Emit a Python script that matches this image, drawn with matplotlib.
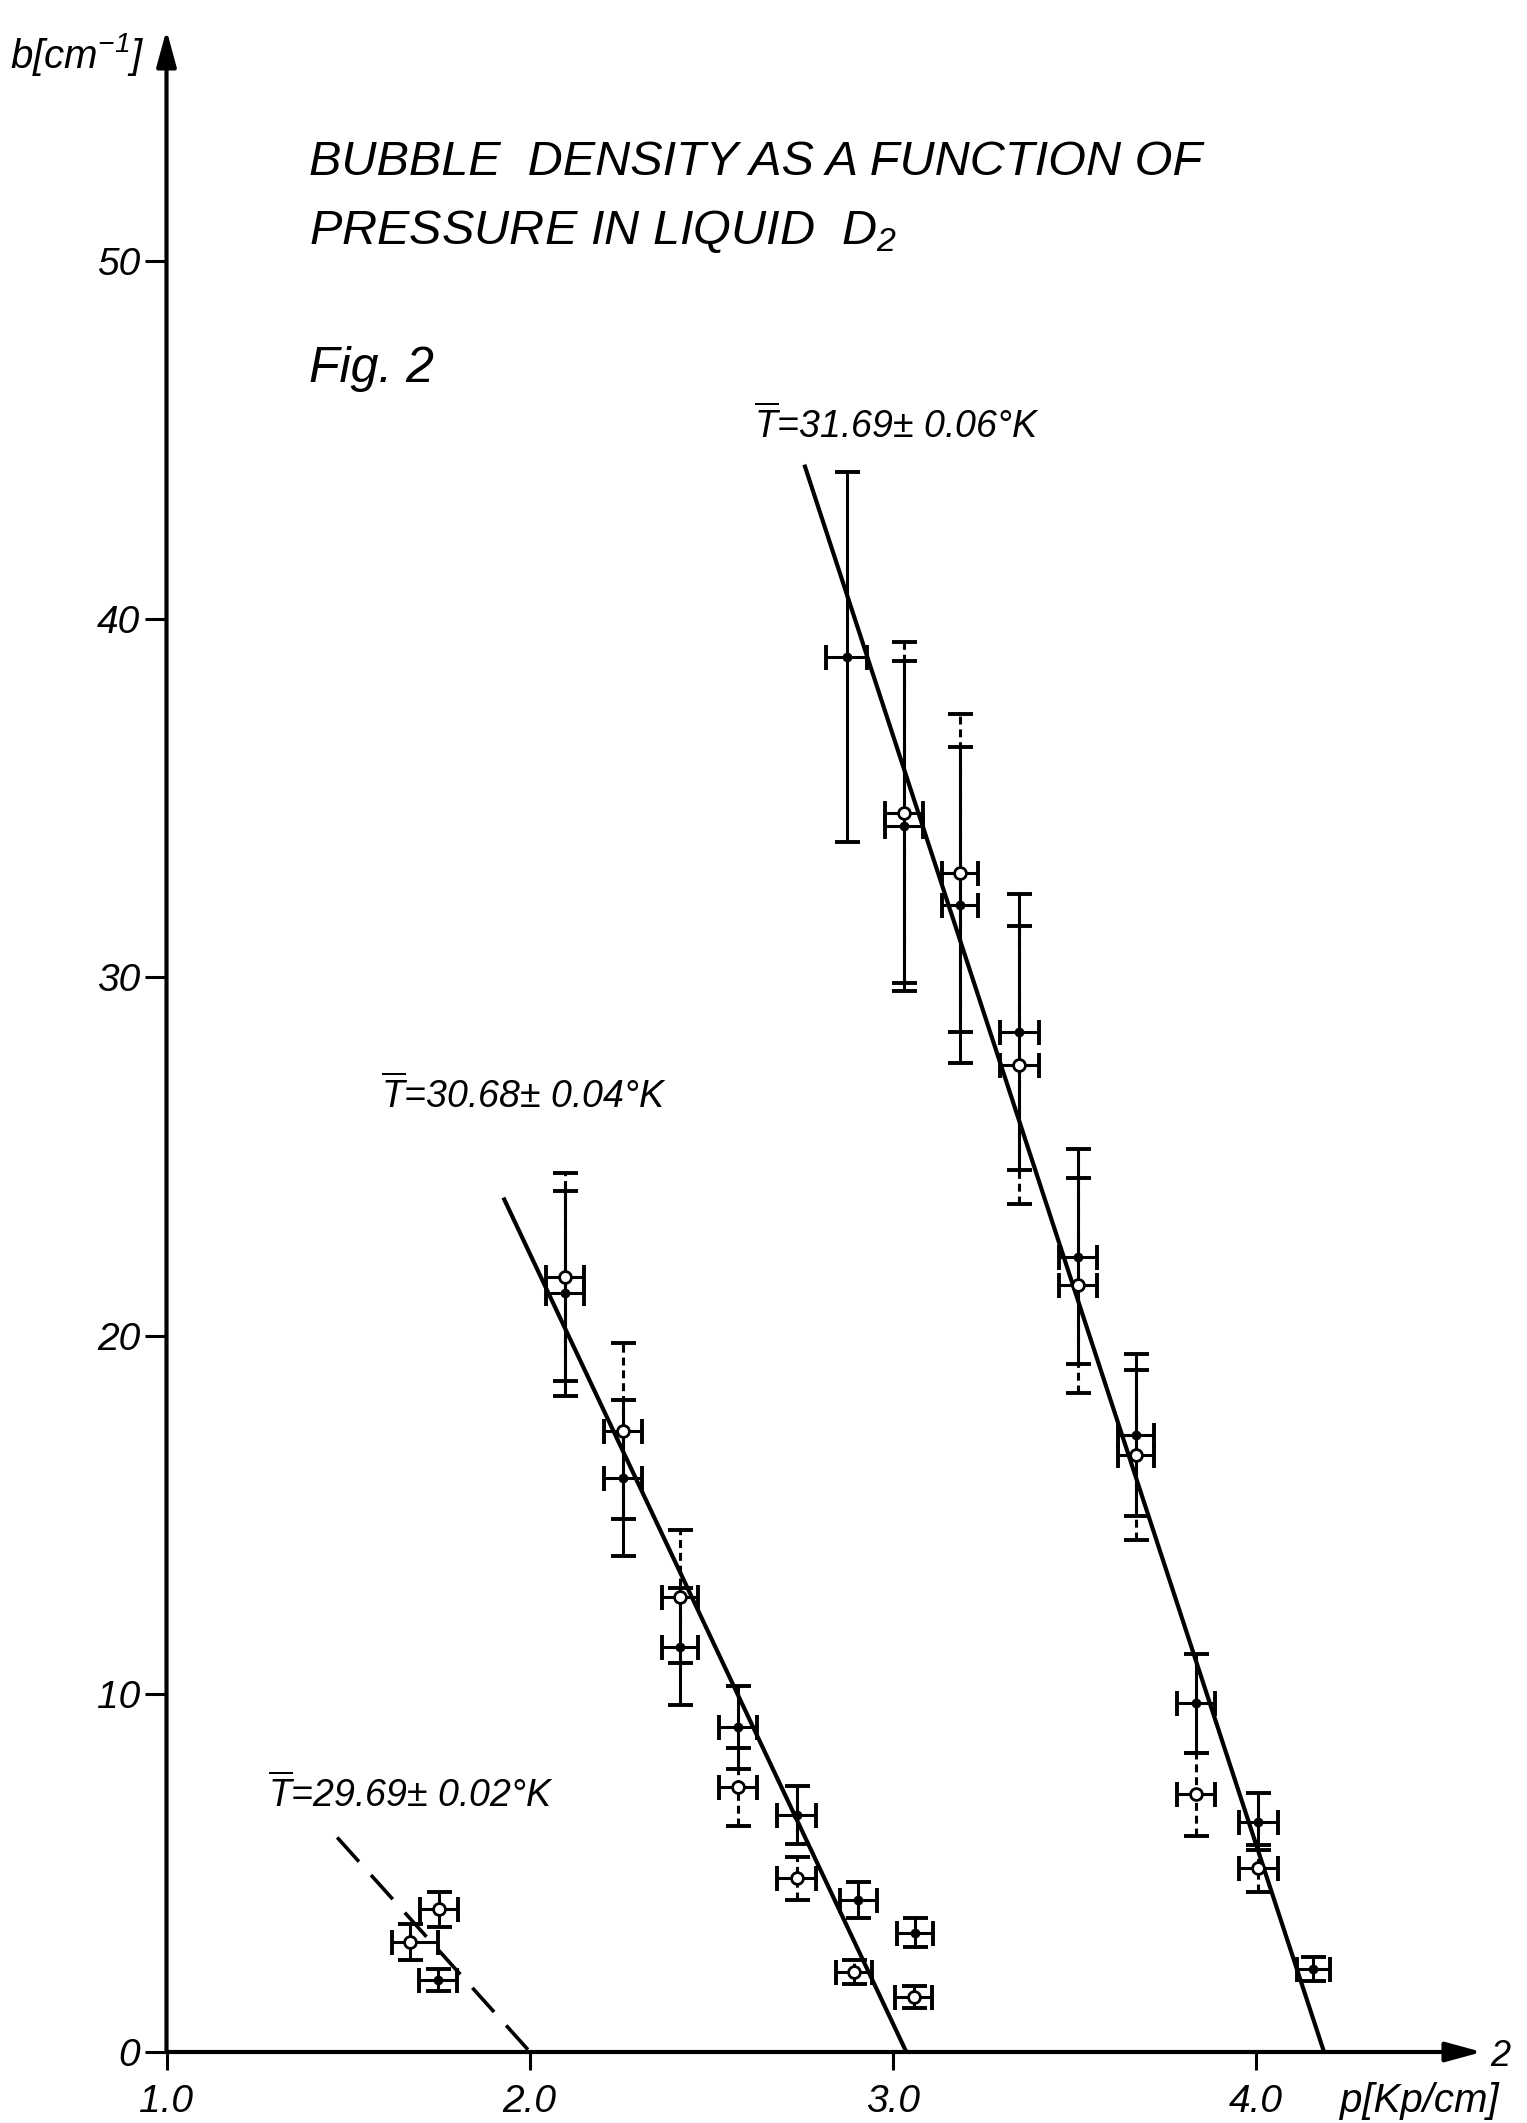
import numpy as np
import matplotlib
matplotlib.use("Agg")
from matplotlib import pyplot as plt

# ---------------- data ----------------
# T = 31.69 K : filled points (solid error bars)
p_hi_f = [2.873, 3.031, 3.185, 3.348, 3.510, 3.670, 3.835, 4.006, 4.158]
b_hi_f = [38.95, 34.23, 32.02, 28.48, 22.20, 17.23, 9.73, 6.43, 2.32]
db_hi_f = [5.17, 4.60, 4.40, 3.85, 3.00, 2.26, 1.37, 0.79, 0.33]
dp_hi_f = [0.057, 0.053, 0.050, 0.053, 0.053, 0.050, 0.052, 0.053, 0.046]
# T = 31.69 K : open points (dashed error bars)
p_hi_o = [3.031, 3.185, 3.348, 3.510, 3.670, 3.835, 4.006]
b_hi_o = [34.60, 32.91, 27.55, 21.41, 16.67, 7.19, 5.13]
db_hi_o = [4.75, 4.43, 3.88, 3.00, 2.38, 1.16, 0.66]
dp_hi_o = [0.053, 0.050, 0.053, 0.053, 0.050, 0.052, 0.053]

# T = 30.68 K
p_mid_f = [2.097, 2.256, 2.414, 2.574, 2.735, 2.905, 3.061]
b_mid_f = [21.18, 16.02, 11.32, 9.06, 6.62, 4.24, 3.33]
db_mid_f = [2.87, 2.17, 1.62, 1.17, 0.81, 0.50, 0.41]
dp_mid_f = [0.052, 0.052, 0.050, 0.052, 0.053, 0.052, 0.050]
p_mid_o = [2.097, 2.256, 2.414, 2.574, 2.735, 2.893, 3.057]
b_mid_o = [21.64, 17.34, 12.71, 7.41, 4.85, 2.24, 1.54]
db_mid_o = [2.91, 2.45, 1.85, 1.09, 0.60, 0.33, 0.30]
dp_mid_o = [0.052, 0.052, 0.050, 0.052, 0.053, 0.050, 0.050]

# T = 29.69 K
p_lo_f = [1.748]
b_lo_f = [2.01]
db_lo_f = [0.31]
dp_lo_f = [0.052]
p_lo_o = [1.670, 1.751]
b_lo_o = [3.08, 3.98]
db_lo_o = [0.50, 0.50]
dp_lo_o = [[0.050, 0.052], [0.078, 0.052]]

# fitted lines (end points)
fit_hi_p = [2.758, 4.187]
fit_hi_b = [44.26, 0.0]
fit_mid_p = [1.930, 3.037]
fit_mid_b = [23.80, 0.0]
fit_lo_p = [1.470, 2.001]
fit_lo_b = [5.99, 0.0]

xticks = [1.0, 2.0, 3.0, 4.0]
xticklabels = ['1.0', '2.0', '3.0', '4.0']
yticks = [0, 10, 20, 30, 40, 50]

# ---------------- style ----------------
plt.rcParams['font.family'] = ['Liberation Sans', 'DejaVu Sans']
plt.rcParams['font.style'] = 'italic'
plt.rcParams['mathtext.fontset'] = 'custom'
plt.rcParams['mathtext.rm'] = 'Liberation Sans:italic'
plt.rcParams['mathtext.it'] = 'Liberation Sans:italic'

W, H = 1527, 2123
fig = plt.figure(figsize=(W / 100, H / 100), dpi=100)
x0, x1 = 1.0, 4.622
y0, y1 = 0.0, 56.45
ax = fig.add_axes([166.5 / W, 71 / H, (x1 - x0) * 363.2 / W, (y1 - y0) * 35.82 / H])
ax.set_xlim(x0, x1)
ax.set_ylim(y0, y1)
for s in ax.spines.values():
    s.set_visible(False)

# axes drawn as arrows
arrow = dict(arrowstyle='-|>,head_length=1.1,head_width=0.3', lw=3, color='k',
             shrinkA=0, shrinkB=0, mutation_scale=20)
ax.annotate('', xy=(x0, y1), xytext=(x0, y0), arrowprops=arrow, annotation_clip=False)
ax.annotate('', xy=(x1, y0), xytext=(x0, y0), arrowprops=arrow, annotation_clip=False)

ax.set_xticks(xticks, xticklabels)
ax.set_yticks(yticks)
ax.tick_params(axis='both', direction='out', width=2.2, colors='k', labelsize=28)
ax.tick_params(axis='y', length=16, pad=3)
ax.tick_params(axis='x', length=13, pad=10)

# fitted lines
ax.plot(fit_hi_p, fit_hi_b, color='k', lw=3.0, zorder=2)
ax.plot(fit_mid_p, fit_mid_b, color='k', lw=3.0, zorder=2)
ax.plot(fit_lo_p, fit_lo_b, color='k', lw=2.6, linestyle=(0, (9, 5)), zorder=2)

ekw = dict(fmt='none', ecolor='k', elinewidth=2.2, capsize=9, capthick=2.8, zorder=3)


def series(pf, bf, dpf, dbf, po, bo, dpo, dbo, dashed=True):
    eo = ax.errorbar(po, bo, yerr=dbo, **ekw)
    if dashed:
        eo[2][0].set_linestyle((0, (2.6, 1.6)))
    ax.errorbar(po, bo, xerr=dpo, **ekw)
    ax.errorbar(pf, bf, xerr=dpf, yerr=dbf, **ekw)
    ax.plot(po, bo, 'o', ms=8.5, mfc='white', mec='k', mew=2.0, zorder=5)
    ax.plot(pf, bf, 'o', ms=6, color='k', zorder=5)


series(p_hi_f, b_hi_f, dp_hi_f, db_hi_f, p_hi_o, b_hi_o, dp_hi_o, db_hi_o)
series(p_mid_f, b_mid_f, dp_mid_f, db_mid_f, p_mid_o, b_mid_o, dp_mid_o, db_mid_o)
series(p_lo_f, b_lo_f, dp_lo_f, db_lo_f, p_lo_o, b_lo_o, dp_lo_o, db_lo_o, dashed=False)


def ftext(x, y, s, size, **kw):
    fig.text(x / W, 1 - y / H, s, fontsize=size, ha='left', va='baseline', **kw)


ftext(309, 175, 'BUBBLE  DENSITY AS A FUNCTION OF', 35)
ftext(309, 244, 'PRESSURE IN LIQUID  D$_2$', 35)
ftext(309, 382, 'Fig. 2', 36)
ftext(754, 438, r'$\overline{T}$=31.69± 0.06°K', 27)
ftext(381, 1108, r'$\overline{T}$=30.68± 0.04°K', 27)
ftext(268, 1807, r'$\overline{T}$=29.69± 0.02°K', 27)
ftext(10, 68, r'b[cm$^{-1}$]', 29)
ftext(1340, 2112, 'p[Kp/cm]', 29)
ftext(1490, 2066, '2', 26)

fig.savefig('out.png', dpi=100)
